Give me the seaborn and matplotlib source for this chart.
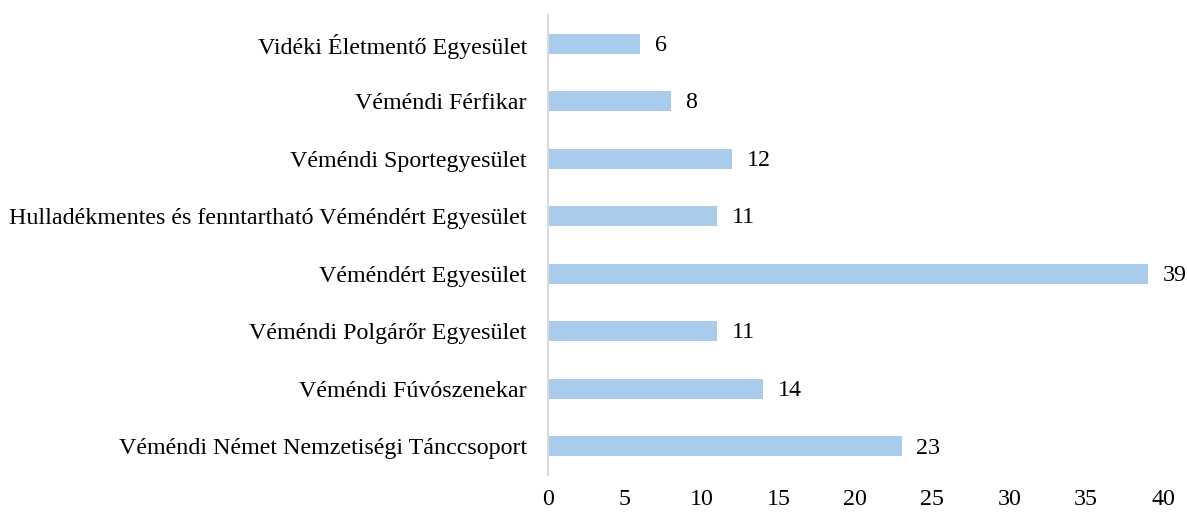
import pandas as pd
import matplotlib.pyplot as plt
import seaborn as sns

# data, top to bottom as shown
egyesulet = [
    "Vidéki Életmentő Egyesület",
    "Véméndi Férfikar",
    "Véméndi Sportegyesület",
    "Hulladékmentes és fenntartható Véméndért Egyesület",
    "Véméndért Egyesület",
    "Véméndi Polgárőr Egyesület",
    "Véméndi Fúvószenekar",
    "Véméndi Német Nemzetiségi Tánccsoport",
]
darab = [6, 8, 12, 11, 39, 11, 14, 23]

df = pd.DataFrame({"Egyesület": egyesulet, "Darab": darab})

sns.set_theme(style="white")
plt.rcParams["font.family"] = ["Liberation Serif", "DejaVu Serif"]

fig = plt.figure(figsize=(11.88, 5.13), dpi=100)
ax = fig.add_axes([0.461, 0.074, 0.518, 0.897])

sns.barplot(data=df, x="Darab", y="Egyesület", color="#A9CBEC",
            width=0.35, saturation=1, linewidth=0, ax=ax)

for i, v in enumerate(darab):
    ax.text(v + 0.95, i + 0.03, str(v), va="center", ha="left", fontsize=17.3, color="#000000")

ax.set_xlim(0, 40)
ax.set_xticks(range(0, 41, 5))
ax.set_ylim(7.5, -0.5)
ax.set_xlabel("")
ax.set_ylabel("")
ax.tick_params(axis="both", labelsize=17.3, length=0, colors="#000000")
ax.tick_params(axis="x", pad=10)
ax.tick_params(axis="y", pad=15)
for s in ["top", "right", "bottom"]:
    ax.spines[s].set_visible(False)
ax.spines["left"].set_color("#D9D9D9")
ax.spines["left"].set_linewidth(1.5)

fig.savefig("out.png", dpi=100)
